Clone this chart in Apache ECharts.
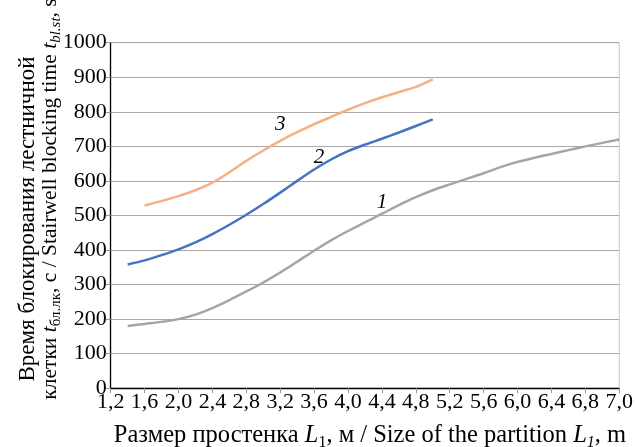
<!DOCTYPE html>
<html><head><meta charset="utf-8">
<script src="https://cdn.jsdelivr.net/npm/echarts@6/dist/echarts.min.js"></script>
<style>html,body{margin:0;padding:0;background:#fff}#c{width:636px;height:447px}</style>
</head><body><div id="c"></div>
<script>
const xCategories = ['1,2','1,4','1,6','1,8','2,0','2,2','2,4','2,6','2,8','3,0','3,2','3,4','3,6','3,8','4,0','4,2','4,4','4,6','4,8','5,0','5,2','5,4','5,6','5,8','6,0','6,2','6,4','6,6','6,8','6,9','7,0'];
const series1 = [null,180,186,192,200,213,232,255,280,306,335,366,398,428,455,480,505,530,553,573,590,606,622,640,655,667,678,689,700,710,720];
const series2 = [null,358,370,385,402,422,446,473,502,533,566,600,633,662,686,705,722,740,759,778,null,null,null,null,null,null,null,null,null,null,null];
const series3 = [null,null,529,542,556,573,595,625,658,688,716,741,764,785,806,825,842,857,872,894,null,null,null,null,null,null,null,null,null,null,null];
const seriesNames = ['1','2','3'];
const curveLabels = [
  {name:'1', coord:[16, 538]},
  {name:'2', coord:[12, 669], label:{offset:[5,0]}},
  {name:'3', coord:[10, 762]}
];
const yMin = 0, yMax = 1000, yStep = 100;

const F = 'Liberation Serif';
const chart = echarts.init(document.getElementById('c'));
function mkRich(fs, ss){
  return {
    b:{fontFamily:F,fontSize:fs,color:'#000',lineHeight:fs+6,verticalAlign:'middle'},
    bi:{fontFamily:F,fontSize:fs,color:'#000',fontStyle:'italic',lineHeight:fs+6,verticalAlign:'middle'},
    bs:{fontFamily:F,fontSize:ss,color:'#000',lineHeight:ss+2,verticalAlign:'bottom'},
    g:{fontFamily:F,fontSize:fs,color:'#8f8f8f',lineHeight:fs+6,verticalAlign:'middle'},
    gi:{fontFamily:F,fontSize:fs,color:'#8f8f8f',fontStyle:'italic',lineHeight:fs+6,verticalAlign:'middle'},
    gs:{fontFamily:F,fontSize:ss,color:'#8f8f8f',fontStyle:'italic',lineHeight:ss+2,verticalAlign:'bottom'}
  };
}
const colors = ['#a5a5a5','#4472c4','#f4b183'];
const data = [series1, series2, series3];
chart.setOption({
  animation:false,
  grid:{left:110.7,right:11,top:42.7,bottom:58.8,show:true,borderColor:'#c8c8c8',borderWidth:1,backgroundColor:'transparent'},
  xAxis:{type:'category',data:xCategories,boundaryGap:false,
    axisLine:{lineStyle:{color:'#000',width:1.3}},
    axisTick:{show:true,interval:1,length:5,lineStyle:{color:'#999'}},
    axisLabel:{interval:1,fontFamily:F,fontSize:22,color:'#000',margin:3},
    splitLine:{show:false}},
  yAxis:{type:'value',min:yMin,max:yMax,interval:yStep,
    axisLine:{show:true,lineStyle:{color:'#000',width:1.3}},
    axisTick:{show:true,length:5,lineStyle:{color:'#999'}},
    axisLabel:{fontFamily:F,fontSize:22,color:'#000',margin:4,formatter:v=>String(v)},
    splitLine:{lineStyle:{color:'#a8a8a8',width:1}}},
  series: data.map((d,i)=>({
    name:seriesNames[i],type:'line',data:d,smooth:0.3,showSymbol:false,symbol:'none',
    lineStyle:{color:colors[i],width:2.5},
    markPoint: {symbol:'circle',symbolSize:0,
      label:{show:true,position:'inside',formatter:'{b}',fontFamily:F,fontSize:21,fontStyle:'italic',color:'#000'},
      data:[curveLabels[i]]}
  })),
  graphic:[
    {type:'text',x:28,y:219,rotation:Math.PI/2,
      style:{text:'{b|Время блокирования лестничной}',rich:mkRich(23,15),align:'center',verticalAlign:'middle'}},
    {type:'text',x:50,y:199,rotation:Math.PI/2,
      style:{text:'{b|клетки }{bi|t}{bs|бл.лк}{b|, с }{g|/ Stairwell blocking time }{gi|t}{gs|bl.st}{g|, s}',rich:mkRich(21.5,15),align:'center',verticalAlign:'middle'}},
    {type:'text',x:370,y:436,
      style:{text:'{b|Размер простенка }{bi|L}{bs|1}{b|, м }{g|/ Size of the partition }{gi|L}{gs|1}{g|, m}',rich:mkRich(24.5,16),align:'center',verticalAlign:'middle'}}
  ]
});
</script></body></html>
